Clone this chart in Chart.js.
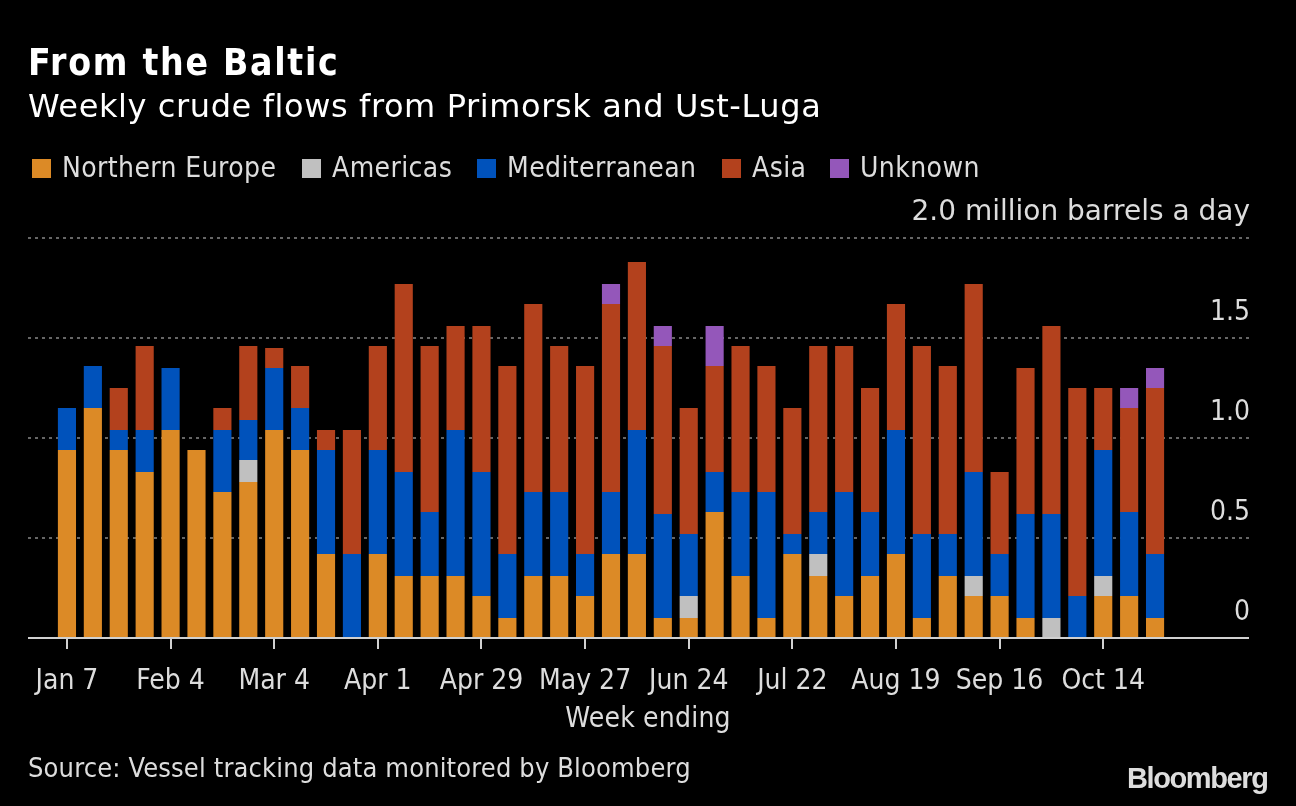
<!DOCTYPE html>
<html>
<head>
<meta charset="utf-8">
<script src="https://cdn.jsdelivr.net/npm/chart.js@4.4.1/dist/chart.umd.min.js"></script>
<style>
  body { margin: 0; background: #000; width: 1296px; height: 806px; overflow: hidden; position: relative;
         font-family: 'DejaVu Sans Condensed', 'DejaVu Sans', sans-serif; color: #ddd; }
  canvas { position: absolute; left: 0; top: 0; }
  .txt { position: absolute; white-space: nowrap; }
  #title { left: 28px; top: 44px; font-size: 37px; line-height: 37px; font-weight: bold; color: #fff; letter-spacing: 1.7px; }
  #subtitle { left: 28px; top: 90px; font-family: 'DejaVu Sans', sans-serif; font-size: 32px; line-height: 32px;
              color: #fff; letter-spacing: 0.6px; }
  .leg { position: absolute; top: 154px; font-size: 28px; line-height: 28px; color: #ddd; white-space: nowrap; letter-spacing: 0.4px; }
  .leg i { position: absolute; left: 0; top: 5px; width: 19px; height: 19px; }
  .leg span { margin-left: 30px; }
  #xtitle { left: 0; width: 1296px; text-align: center; top: 704px; font-size: 28px; line-height: 28px; letter-spacing: 0.2px; }
  #source { left: 28px; top: 754px; font-size: 27px; line-height: 27px; letter-spacing: 0.15px; }
  #logo { left: 1127px; top: 764px; font-family: 'Liberation Sans', Arial, sans-serif; font-weight: bold;
          font-size: 29px; line-height: 29px; letter-spacing: -1.4px; color: #ddd; }
</style>
</head>
<body>
<canvas id="chart" width="1296" height="806"></canvas>
<div class="txt" id="title">From the Baltic</div>
<div class="txt" id="subtitle">Weekly crude flows from Primorsk and Ust-Luga</div>
<div id="legend"></div>
<div class="txt" id="xtitle">Week ending</div>
<div class="txt" id="source">Source: Vessel tracking data monitored by Bloomberg</div>
<div class="txt" id="logo">Bloomberg</div>
<script>
// week ending dates
const weeks = ['Jan 7', 'Jan 14', 'Jan 21', 'Jan 28', 'Feb 4', 'Feb 11', 'Feb 18', 'Feb 25',
  'Mar 4', 'Mar 11', 'Mar 18', 'Mar 25', 'Apr 1', 'Apr 8', 'Apr 15', 'Apr 22', 'Apr 29',
  'May 6', 'May 13', 'May 20', 'May 27', 'Jun 3', 'Jun 10', 'Jun 17', 'Jun 24', 'Jul 1',
  'Jul 8', 'Jul 15', 'Jul 22', 'Jul 29', 'Aug 5', 'Aug 12', 'Aug 19', 'Aug 26', 'Sep 2',
  'Sep 9', 'Sep 16', 'Sep 23', 'Sep 30', 'Oct 7', 'Oct 14', 'Oct 21', 'Oct 28'];
const shownWeeks = ['Jan 7', 'Feb 4', 'Mar 4', 'Apr 1', 'Apr 29', 'May 27', 'Jun 24',
  'Jul 22', 'Aug 19', 'Sep 16', 'Oct 14'];

// million barrels a day, by destination
const northernEurope = [0.94, 1.15, 0.94, 0.83, 1.04, 0.94, 0.73, 0.78, 1.04, 0.94, 0.42, 0,
  0.42, 0.31, 0.31, 0.31, 0.21, 0.10, 0.31, 0.31, 0.21, 0.42, 0.42, 0.10, 0.10, 0.63, 0.31,
  0.10, 0.42, 0.31, 0.21, 0.31, 0.42, 0.10, 0.31, 0.21, 0.21, 0.10, 0, 0, 0.21, 0.21, 0.10];
const americas = [0, 0, 0, 0, 0, 0, 0, 0.11, 0, 0, 0, 0,
  0, 0, 0, 0, 0, 0, 0, 0, 0, 0, 0, 0, 0.11, 0, 0,
  0, 0, 0.11, 0, 0, 0, 0, 0, 0.10, 0, 0, 0.10, 0, 0.10, 0, 0];
const mediterranean = [0.21, 0.21, 0.10, 0.21, 0.31, 0, 0.31, 0.20, 0.31, 0.21, 0.52, 0.42,
  0.52, 0.52, 0.32, 0.73, 0.62, 0.32, 0.42, 0.42, 0.21, 0.31, 0.62, 0.52, 0.31, 0.20, 0.42,
  0.63, 0.10, 0.21, 0.52, 0.32, 0.62, 0.42, 0.21, 0.52, 0.21, 0.52, 0.52, 0.21, 0.63, 0.42, 0.32];
const asia = [0, 0, 0.21, 0.42, 0, 0, 0.11, 0.37, 0.10, 0.21, 0.10, 0.62,
  0.52, 0.94, 0.83, 0.52, 0.73, 0.94, 0.94, 0.73, 0.94, 0.94, 0.84, 0.84, 0.63, 0.53, 0.73,
  0.63, 0.63, 0.83, 0.73, 0.62, 0.63, 0.94, 0.84, 0.94, 0.41, 0.73, 0.94, 1.04, 0.31, 0.52, 0.83];
const unknown = [0, 0, 0, 0, 0, 0, 0, 0, 0, 0, 0, 0,
  0, 0, 0, 0, 0, 0, 0, 0, 0, 0.10, 0, 0.10, 0, 0.20, 0,
  0, 0, 0, 0, 0, 0, 0, 0, 0, 0, 0, 0, 0, 0, 0.10, 0.10];

const yTicks = [0, 0.5, 1.0, 1.5, 2.0];
const yTickLabels = ['0', '0.5', '1.0', '1.5', '2.0 million barrels a day'];

const series = [
  { label: 'Northern Europe', data: northernEurope, color: '#dc8a26' },
  { label: 'Americas', data: americas, color: '#c0c0c0' },
  { label: 'Mediterranean', data: mediterranean, color: '#0052bb' },
  { label: 'Asia', data: asia, color: '#b3411d' },
  { label: 'Unknown', data: unknown, color: '#9457ba' }
];

// legend
const legendLefts = [32, 302, 477, 722, 830];
document.getElementById('legend').innerHTML = series.map((s, i) => `
  <div class="leg" style="left:${legendLefts[i]}px"><i style="background:${s.color}"></i><span>${s.label}</span></div>
`).join('');

const fontFamily = "'DejaVu Sans Condensed', 'DejaVu Sans', sans-serif";
Chart.defaults.font.family = fontFamily;

const gridPlugin = {
  id: 'bbgGrid',
  beforeDatasetsDraw(chart) {
    const ctx = chart.ctx;
    const y = chart.scales.y;
    ctx.save();
    ctx.strokeStyle = '#666666';
    ctx.lineWidth = 2;
    ctx.setLineDash([3, 4]);
    yTicks.forEach(v => {
      if (v === 0) return;
      const py = Math.round(y.getPixelForValue(v));
      ctx.beginPath();
      ctx.moveTo(28, py);
      ctx.lineTo(1249, py);
      ctx.stroke();
    });
    ctx.restore();
  },
  afterDatasetsDraw(chart) {
    const ctx = chart.ctx;
    const y = chart.scales.y;
    ctx.save();
    ctx.strokeStyle = '#d0d0d0';
    ctx.lineWidth = 2;
    const py0 = y.getPixelForValue(0);
    ctx.beginPath();
    ctx.moveTo(28, py0);
    ctx.lineTo(1249, py0);
    ctx.stroke();
    ctx.fillStyle = '#dddddd';
    ctx.textAlign = 'right';
    ctx.textBaseline = 'alphabetic';
    yTicks.forEach((v, i) => {
      // the unit label sets wider than the bare numbers
      ctx.font = yTickLabels[i].length > 4 ? "28px 'DejaVu Sans', sans-serif" : '28px ' + fontFamily;
      ctx.fillText(yTickLabels[i], 1250, y.getPixelForValue(v) - 18);
    });
    ctx.restore();
  }
};

new Chart(document.getElementById('chart'), {
  type: 'bar',
  data: {
    labels: weeks,
    datasets: series.map(s => ({
      label: s.label,
      data: s.data,
      backgroundColor: s.color,
      borderWidth: 0,
      barPercentage: 0.7,
      categoryPercentage: 1
    }))
  },
  options: {
    responsive: false,
    animation: false,
    layout: { padding: { left: 54, right: 128, top: 238, bottom: 108 } },
    plugins: { legend: { display: false }, tooltip: { enabled: false } },
    scales: {
      x: {
        stacked: true,
        border: { display: false },
        grid: {
          offset: false,
          drawOnChartArea: false,
          tickLength: 11,
          lineWidth: 2,
          color: c => shownWeeks.includes(weeks[c.index]) ? '#d0d0d0' : 'rgba(0,0,0,0)'
        },
        ticks: {
          autoSkip: false,
          maxRotation: 0,
          color: '#dddddd',
          font: { size: 28 },
          padding: 16,
          callback: (v, i) => shownWeeks.includes(weeks[i]) ? weeks[i] : ''
        },
        afterFit(axis) { axis.height = 60; }
      },
      y: {
        stacked: true,
        display: false,
        min: 0,
        max: 2.0
      }
    }
  },
  plugins: [gridPlugin]
});
</script>
</body>
</html>
